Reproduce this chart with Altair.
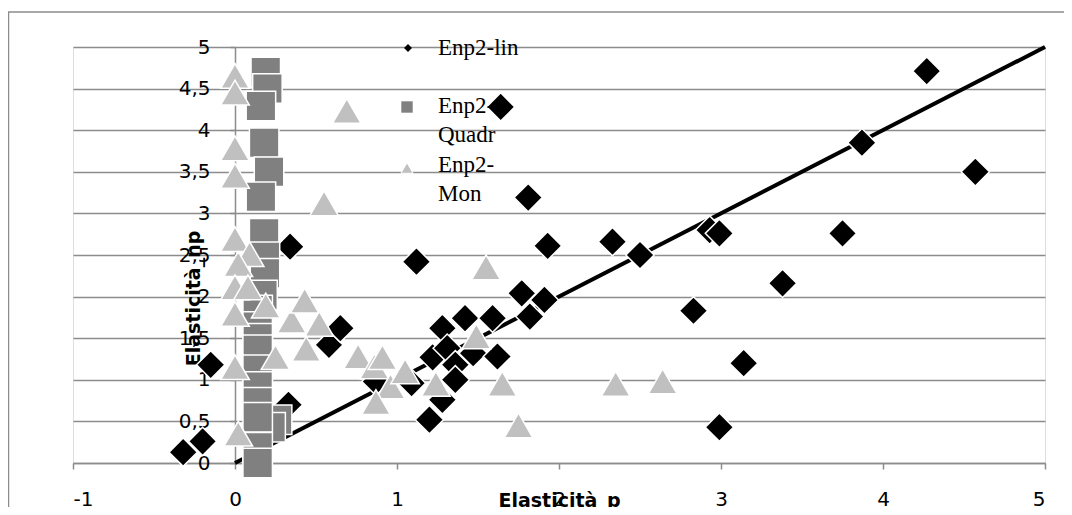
import altair as alt
import pandas as pd

# ---- data ----
lin_x = [-0.32, -0.20, -0.15, 0.34, 0.33, 0.58, 0.65, 1.12, 1.64, 1.81, 1.93, 2.33, 2.50,
         2.93, 2.99, 3.75, 3.87, 4.27, 4.57, 3.38, 3.14, 2.99, 2.83, 1.20, 1.28, 1.28,
         1.42, 1.59, 1.77, 1.91, 1.82, 1.22, 1.31, 1.36, 1.36, 1.09, 0.87, 1.47, 1.62]
lin_y = [0.13, 0.26, 1.18, 2.60, 0.70, 1.42, 1.62, 2.42, 4.28, 3.19, 2.61, 2.66, 2.50,
         2.80, 2.76, 2.76, 3.85, 4.71, 3.50, 2.16, 1.20, 0.43, 1.83, 0.52, 0.76, 1.62,
         1.74, 1.74, 2.04, 1.96, 1.76, 1.27, 1.38, 1.18, 1.00, 0.96, 0.98, 1.32, 1.28]

quad_x = [0.19, 0.20, 0.16, 0.18, 0.21, 0.16, 0.18, 0.185, 0.185, 0.17, 0.14, 0.14, 0.14,
          0.14, 0.14, 0.14, 0.14, 0.26, 0.22, 0.14, 0.14, 0.14]
quad_y = [4.70, 4.50, 4.29, 3.85, 3.50, 3.20, 2.76, 2.48, 2.28, 2.02, 1.84, 1.64, 1.50,
          1.36, 1.12, 0.92, 0.73, 0.52, 0.43, 0.55, 0.19, 0.00]

mon_x = [0.00, 0.00, 0.00, 0.00, 0.69, 0.55, 0.00, 0.09, 0.02, 0.00, 0.08, 0.19, 0.00,
         0.35, 0.43, 0.52, 0.44, 0.25, 0.00, 0.02, 0.76, 0.86, 0.91, 0.96, 1.05, 0.87,
         1.24, 1.49, 1.55, 1.65, 1.75, 2.35, 2.64]
mon_y = [4.70, 4.50, 3.83, 3.50, 4.28, 3.17, 2.74, 2.56, 2.44, 2.16, 2.16, 1.94, 1.84,
         1.76, 2.00, 1.72, 1.42, 1.32, 1.20, 0.40, 1.33, 1.21, 1.32, 0.97, 1.15, 0.78,
         1.00, 1.57, 2.40, 1.00, 0.50, 1.00, 1.03]

line_x = [0, 5]
line_y = [0, 5]

x_ticks = [-1, 0, 1, 2, 3, 4, 5]
y_ticks = [0, 0.5, 1, 1.5, 2, 2.5, 3, 3.5, 4, 4.5, 5]

series_names = ["Enp2-lin", "Enp2-", "Quadr", "Enp2-", "Mon"]

GRID = "#8c8c8c"
LABEL_FONT = "DejaVu Sans"

xscale = alt.Scale(domain=[-1, 5], nice=False, zero=False)
yscale = alt.Scale(domain=[0, 5], nice=False, zero=False)

xaxis = alt.Axis(values=x_ticks, grid=False, domainColor=GRID, domainWidth=1.5,
                 tickColor=GRID, tickWidth=1.5, tickSize=6, labelPadding=20,
                 labelExpr="'' + datum.value",
                 labelFont=LABEL_FONT, labelFontSize=20, labelColor="#000000",
                 title="Elasticità_p", titleFont=LABEL_FONT, titleFontSize=19,
                 titleFontWeight="bold", titleColor="#000000", titleY=37,
                 titleBaseline="middle", titleAlign="center")
yaxis = alt.Axis(values=y_ticks, grid=True, gridColor=GRID, gridWidth=1.5,
                 offset=-162, domainColor=GRID, domainWidth=1.5,
                 tickColor=GRID, tickWidth=1.5, tickSize=5, labelPadding=20,
                 labelExpr="replace(format(datum.value, '.1~f'), '.', ',')",
                 labelFont=LABEL_FONT, labelFontSize=20, labelColor="#000000",
                 labelBaseline="middle",
                 title="Elasticità_np", titleFont=LABEL_FONT, titleFontSize=19,
                 titleFontWeight="bold", titleColor="#000000", titleAngle=270,
                 titleX=-42, titleY=251, titleBaseline="middle", titleAlign="center")


def xe(f):
    return alt.X(f"{f}:Q", scale=xscale, axis=xaxis)


def ye(f):
    return alt.Y(f"{f}:Q", scale=yscale, axis=yaxis)


df_lin = pd.DataFrame({"x": lin_x, "y": lin_y})
df_quad = pd.DataFrame({"x": quad_x, "y": quad_y})
df_mon = pd.DataFrame({"x": mon_x, "y": mon_y})
df_line = pd.DataFrame({"x": line_x, "y": line_y})
one = pd.DataFrame({"a": [0]})

line = alt.Chart(df_line).mark_line(color="#000000", strokeWidth=4).encode(x=xe("x"), y=ye("y"))
lin = alt.Chart(df_lin).mark_point(shape="diamond", filled=True, size=800, fill="#000000",
                                   stroke="#ffffff", strokeWidth=1.5, opacity=1).encode(x=xe("x"), y=ye("y"))
quad = alt.Chart(df_quad).mark_point(shape="square", filled=True, size=870, fill="#808080",
                                     stroke="#ffffff", strokeWidth=1.5, opacity=1).encode(x=xe("x"), y=ye("y"))
mon = alt.Chart(df_mon).mark_point(shape="triangle-up", filled=True, size=820, fill="#c0c0c0",
                                   stroke="#ffffff", strokeWidth=1.5, opacity=1, yOffset=4).encode(x=xe("x"), y=ye("y"))

# frame (left and top border of the chart area; right/bottom lie outside the page)
frame = alt.Chart(one).mark_rect(fill=None, fillOpacity=0, stroke=GRID, strokeWidth=1.5).encode(
    x=alt.value(-64.5), x2=alt.value(1200), y=alt.value(-35), y2=alt.value(700))

# legend
leg_d = alt.Chart(one).mark_point(shape="diamond", filled=True, size=64, fill="#000000", opacity=1).encode(
    x=alt.value(335), y=alt.value(1))
leg_s = alt.Chart(one).mark_point(shape="square", filled=True, size=130, fill="#808080", opacity=1).encode(
    x=alt.value(334), y=alt.value(60))
leg_t = alt.Chart(one).mark_point(shape="triangle-up", filled=True, size=150, fill="#c0c0c0", opacity=1,
                                  stroke="#ffffff", strokeWidth=1).encode(
    x=alt.value(334), y=alt.value(121))

text_ys = [1, 59, 88, 118, 147]
leg_texts = []
for name, ty in zip(series_names, text_ys):
    leg_texts.append(alt.Chart(one).mark_text(font="Liberation Serif", fontSize=23, align="left",
                                              baseline="middle", color="#000000").encode(
        x=alt.value(365), y=alt.value(ty), text=alt.value(name)))

chart = alt.layer(frame, line, lin, quad, mon, leg_d, leg_s, leg_t, *leg_texts).properties(
    width=972, height=416,
    autosize=alt.AutoSizeParams(type="none"),
    padding={"left": 65, "top": 39, "right": 19, "bottom": 44},
).configure_view(stroke=None).configure(background="#ffffff")

chart.save("out.html", embed_options={"renderer": "svg", "actions": False})
